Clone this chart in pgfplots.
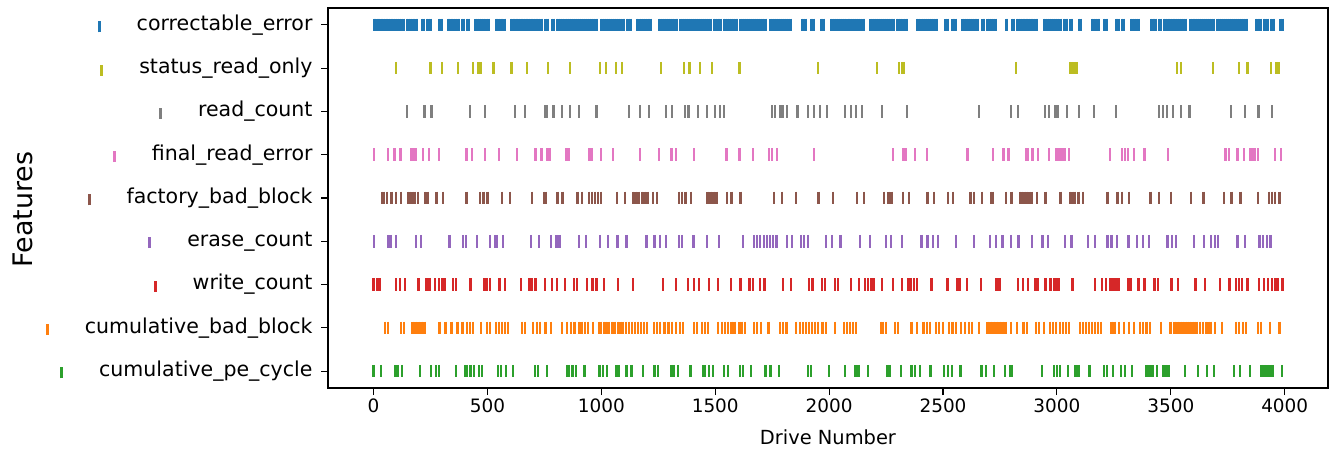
\documentclass[border=0pt]{standalone}
\usepackage{fontspec}
\setmainfont{DejaVu Sans}
\usepackage{pgfplots}
\pgfplotsset{compat=1.18}
\definecolor{tabblue}{HTML}{1F77B4}
\definecolor{tabolive}{HTML}{BCBD22}
\definecolor{tabgray}{HTML}{7F7F7F}
\definecolor{tabpink}{HTML}{E377C2}
\definecolor{tabbrown}{HTML}{8C564B}
\definecolor{tabpurple}{HTML}{9467BD}
\definecolor{tabred}{HTML}{D62728}
\definecolor{taborange}{HTML}{FF7F0E}
\definecolor{tabgreen}{HTML}{2CA02C}
\newcommand{\mk}[1]{\textcolor{#1}{\rule[-2bp]{3bp}{11bp}}\hspace{36bp}}
\pgfplotsset{ev/.style={only marks, mark=|, mark size=6.3bp, mark options={line width=2.3bp, solid}, draw=#1, color=#1}}
\begin{document}
\begin{tikzpicture}
\useasboundingbox (0,0) rectangle (1329bp,450bp);
\begin{axis}[
  at={(328bp,62bp)}, anchor=south west,
  scale only axis, width=1000bp, height=380bp,
  xmin=-200, xmax=4190, ymin=-0.39, ymax=8.39,
  xtick={0,500,...,4000},
  ytick={0,1,2,3,4,5,6,7,8},
  yticklabels={\mk{tabgreen}cumulative\_pe\_cycle,\mk{taborange}cumulative\_bad\_block,\mk{tabred}write\_count,\mk{tabpurple}erase\_count,\mk{tabbrown}factory\_bad\_block,\mk{tabpink}final\_read\_error,\mk{tabgray}read\_count,\mk{tabolive}status\_read\_only,\mk{tabblue}correctable\_error},
  tick align=outside, major tick length=7bp,
  tick style={black, line width=1.1bp},
  axis line style={black, line width=1.1bp},
  xtick pos=bottom, ytick pos=left,
  xticklabel style={font=\fontsize{18.5}{22}\selectfont},
  yticklabel style={font=\fontsize{20.6}{24}\selectfont, xshift=-5bp},
  /pgf/number format/assume math mode=true,
  /pgf/number format/1000 sep={},
  xlabel={Drive Number}, ylabel={Features},
  xlabel style={font=\fontsize{19.5}{23}\selectfont, at={(axis description cs:0.5,-0.129)}, anchor=center},
  ylabel style={font=\fontsize{27}{31}\selectfont, at={(axis description cs:-0.305,0.47)}, anchor=center},
]
% correctable_error (8)
\addplot[ev=tabblue] coordinates {
(1,8)(7,8)(13,8)(19,8)(25,8)(31,8)(38,8)(46,8)(53,8)(60,8)(67,8)(75,8)(82,8)
(89,8)(98,8)(107,8)(116,8)(125,8)(133,8)(148,8)(156,8)(164,8)(172,8)(177,8)
(184,8)(192,8)(214,8)(221,8)(236,8)(243,8)(250,8)(287,8)(295,8)(302,8)
(326,8)(332,8)(338,8)(345,8)(353,8)(361,8)(368,8)(375,8)(389,8)(397,8)(411,8)(419,8)
(448,8)(457,8)(466,8)(475,8)(484,8)(496,8)(506,8)(536,8)(543,8)(550,8)(558,8)(565,8)(575,8)
(602,8)(610,8)(618,8)(625,8)(631,8)(638,8)(645,8)(653,8)(660,8)(667,8)(675,8)(682,8)(689,8)
(697,8)(704,8)(711,8)(719,8)(726,8)(734,8)(741,8)(755,8)(763,8)(784,8)(792,8)
(806,8)(815,8)(824,8)(833,8)(842,8)(851,8)(860,8)(869,8)(880,8)
(887,8)(896,8)(905,8)(914,8)(923,8)(932,8)(941,8)(950,8)(959,8)(968,8)(975,8)(982,8)
(997,8)(1006,8)(1015,8)(1024,8)(1033,8)(1042,8)(1051,8)(1060,8)(1069,8)(1078,8)(1087,8)(1094,8)(1099,8)
(1114,8)(1121,8)(1128,8)(1158,8)(1167,8)(1176,8)(1185,8)(1194,8)(1203,8)(1210,8)(1216,8)
(1253,8)(1262,8)(1271,8)(1280,8)(1289,8)(1298,8)(1307,8)(1316,8)(1325,8)(1333,8)
(1348,8)(1357,8)(1366,8)(1375,8)(1384,8)(1393,8)(1402,8)(1411,8)(1421,8)
(1428,8)(1437,8)(1446,8)(1455,8)(1464,8)(1473,8)(1482,8)(1494,8)(1502,8)(1510,8)(1517,8)(1524,8)
(1538,8)(1547,8)(1556,8)(1565,8)(1574,8)(1583,8)(1590,8)(1597,8)
(1611,8)(1620,8)(1629,8)(1638,8)(1647,8)(1656,8)(1665,8)(1674,8)(1683,8)(1692,8)(1701,8)(1710,8)(1721,8)
(1743,8)(1752,8)(1761,8)(1770,8)(1779,8)(1788,8)(1797,8)(1806,8)(1815,8)(1824,8)(1831,8)
(1882,8)(1890,8)(1897,8)(1919,8)(1926,8)(1933,8)(1963,8)(1970,8)(1977,8)
(2007,8)(2016,8)(2025,8)(2034,8)(2043,8)(2052,8)(2061,8)(2070,8)(2080,8)(2087,8)(2094,8)
(2102,8)(2111,8)(2120,8)(2129,8)(2138,8)(2146,8)(2153,8)
(2182,8)(2191,8)(2200,8)(2209,8)(2218,8)(2227,8)(2236,8)(2245,8)(2255,8)(2263,8)(2270,8)(2277,8)(2285,8)
(2299,8)(2308,8)(2317,8)(2326,8)(2335,8)(2343,8)
(2387,8)(2396,8)(2405,8)(2414,8)(2423,8)(2432,8)(2441,8)(2450,8)(2459,8)(2468,8)(2475,8)
(2511,8)(2519,8)(2541,8)(2548,8)(2555,8)(2585,8)(2594,8)(2603,8)(2612,8)(2621,8)(2630,8)(2639,8)(2645,8)(2651,8)
(2673,8)(2680,8)(2695,8)(2704,8)(2713,8)(2722,8)(2731,8)(2775,8)(2782,8)(2804,8)(2812,8)
(2826,8)(2834,8)(2842,8)(2849,8)(2855,8)(2863,8)(2870,8)(2878,8)(2885,8)(2892,8)(2900,8)(2907,8)(2914,8)
(2943,8)(2952,8)(2961,8)(2970,8)(2979,8)(2988,8)(2997,8)(3006,8)(3016,8)(3031,8)(3038,8)(3045,8)
(3060,8)(3067,8)(3097,8)(3104,8)(3155,8)(3163,8)(3171,8)(3178,8)(3185,8)(3207,8)(3214,8)(3221,8)
(3258,8)(3265,8)(3273,8)(3287,8)(3295,8)(3324,8)(3333,8)(3342,8)(3351,8)(3360,8)
(3412,8)(3419,8)(3426,8)(3434,8)(3448,8)(3456,8)(3470,8)(3478,8)(3485,8)(3492,8)(3500,8)(3507,8)(3514,8)
(3522,8)(3531,8)(3540,8)(3549,8)(3557,8)(3565,8)(3587,8)(3595,8)(3602,8)(3609,8)
(3617,8)(3626,8)(3635,8)(3644,8)(3653,8)(3662,8)(3671,8)(3680,8)(3690,8)
(3705,8)(3714,8)(3723,8)(3732,8)(3741,8)(3750,8)(3759,8)(3768,8)(3777,8)(3786,8)(3795,8)(3804,8)(3813,8)(3822,8)(3830,8)(3836,8)
(3873,8)(3880,8)(3888,8)(3895,8)(3909,8)(3917,8)(3924,8)(3939,8)(3946,8)(3953,8)(3982,8)(3990,8)
};
% status_read_only (7)
\addplot[ev=tabolive] coordinates {
(100,7)(250,7)(300,7)(371,7)(437,7)(461,7)(471,7)(526,7)(605,7)(674,7)(766,7)(863,7)
(995,7)(1019,7)(1063,7)(1090,7)(1261,7)(1363,7)(1387,7)(1434,7)(1487,7)(1606,7)(1950,7)
(2211,7)(2306,7)(2319,7)(2329,7)(2821,7)(3056,7)(3066,7)(3077,7)(3087,7)(3527,7)(3545,7)
(3685,7)(3798,7)(3837,7)(3940,7)(3964,7)(3974,7)
};
% read_count (6)
\addplot[ev=tabgray] coordinates {
(147,6)(224,6)(255,6)(424,6)(490,6)(621,6)(666,6)(753,6)(760,6)(790,6)(826,6)(863,6)(903,6)
(979,6)(1121,6)(1169,6)(1208,6)(1284,6)(1311,6)(1366,6)(1382,6)(1424,6)(1463,6)(1498,6)(1521,6)(1537,6)
(1748,6)(1763,6)(1785,6)(1795,6)(1816,6)(1861,6)(1906,6)(1934,6)(1961,6)(1992,6)(2069,6)(2095,6)
(2119,6)(2145,6)(2232,6)(2342,6)(2658,6)(2798,6)(2829,6)(2948,6)(2966,6)(2993,6)(3003,6)(3043,6)
(3098,6)(3164,6)(3258,6)(3448,6)(3466,6)(3482,6)(3511,6)(3545,6)(3582,6)(3764,6)(3827,6)(3885,6)(3943,6)
};
% final_read_error (5)
\addplot[ev=tabpink] coordinates {
(3,5)(63,5)(92,5)(118,5)(163,5)(174,5)(184,5)(218,5)(242,5)(287,5)(408,5)(432,5)(490,5)(550,5)
(629,5)(711,5)(737,5)(763,5)(774,5)(847,5)(858,5)(948,5)(958,5)(998,5)(1050,5)(1171,5)(1253,5)
(1308,5)(1327,5)(1408,5)(1550,5)(1606,5)(1666,5)(1737,5)(1750,5)(1771,5)(1935,5)(2279,5)(2324,5)
(2335,5)(2377,5)(2429,5)(2608,5)(2719,5)(2766,5)(2787,5)(2864,5)(2874,5)(2893,5)(2916,5)(2966,5)
(2995,5)(3006,5)(3016,5)(3027,5)(3037,5)(3053,5)(3232,5)(3287,5)(3298,5)(3311,5)(3337,5)(3385,5)
(3487,5)(3740,5)(3756,5)(3793,5)(3822,5)(3848,5)(3858,5)(3869,5)(3882,5)(3956,5)(3985,5)
};
% factory_bad_block (4)
\addplot[ev=tabbrown] coordinates {
(37,4)(47,4)(58,4)(79,4)(100,4)(121,4)(150,4)(161,4)(171,4)(182,4)(195,4)(226,4)(237,4)(276,4)
(305,4)(408,4)(468,4)(482,4)(500,4)(563,4)(600,4)(697,4)(747,4)(758,4)(808,4)(829,4)(895,4)(916,4)
(945,4)(958,4)(971,4)(984,4)(998,4)(1069,4)(1105,4)(1140,4)(1150,4)(1163,4)(1177,4)(1190,4)(1203,4)
(1226,4)(1245,4)(1342,4)(1355,4)(1369,4)(1395,4)(1466,4)(1479,4)(1492,4)(1506,4)(1553,4)(1571,4)
(1611,4)(1758,4)(1792,4)(1856,4)(1953,4)(2016,4)(2121,4)(2153,4)(2240,4)(2261,4)(2274,4)(2324,4)
(2350,4)(2432,4)(2461,4)(2521,4)(2545,4)(2621,4)(2637,4)(2671,4)(2711,4)(2719,4)(2777,4)(2800,4)
(2837,4)(2848,4)(2858,4)(2869,4)(2879,4)(2890,4)(2914,4)(2950,4)(3016,4)(3058,4)(3069,4)(3079,4)
(3095,4)(3114,4)(3222,4)(3266,4)(3285,4)(3316,4)(3411,4)(3448,4)(3501,4)(3590,4)(3643,4)(3732,4)
(3766,4)(3806,4)(3882,4)(3932,4)(3943,4)(3956,4)(3977,4)
};
% erase_count (3)
\addplot[ev=tabpurple] coordinates {
(3,3)(63,3)(74,3)(100,3)(187,3)(208,3)(334,3)(392,3)(405,3)(455,3)(511,3)(532,3)(542,3)(569,3)
(690,3)(726,3)(779,3)(803,3)(816,3)(903,3)(934,3)(995,3)(1029,3)(1071,3)(1111,3)(1198,3)(1234,3)
(1258,3)(1284,3)(1340,3)(1355,3)(1405,3)(1463,3)(1516,3)(1621,3)(1671,3)(1682,3)(1695,3)(1713,3)
(1727,3)(1740,3)(1753,3)(1769,3)(1816,3)(1837,3)(1877,3)(1890,3)(1906,3)(1985,3)(2013,3)(2050,3)
(2137,3)(2179,3)(2250,3)(2271,3)(2321,3)(2406,3)(2432,3)(2456,3)(2477,3)(2558,3)(2637,3)(2706,3)
(2732,3)(2761,3)(2798,3)(2832,3)(2890,3)(2937,3)(2961,3)(3037,3)(3064,3)(3135,3)(3166,3)(3222,3)
(3240,3)(3264,3)(3314,3)(3351,3)(3377,3)(3403,3)(3485,3)(3506,3)(3522,3)(3601,3)(3645,3)(3677,3)
(3693,3)(3706,3)(3793,3)(3827,3)(3890,3)(3906,3)(3922,3)(3937,3)
};
% write_count (2)
\addplot[ev=tabred] coordinates {
(0,2)(16,2)(26,2)(100,2)(116,2)(139,2)(197,2)(232,2)(245,2)(271,2)(287,2)(300,2)(311,2)(350,2)
(363,2)(426,2)(487,2)(497,2)(511,2)(553,2)(576,2)(647,2)(684,2)(697,2)(711,2)(753,2)(782,2)(805,2)
(840,2)(879,2)(892,2)(937,2)(961,2)(979,2)(1013,2)(1074,2)(1140,2)(1271,2)(1329,2)(1379,2)(1406,2)
(1429,2)(1474,2)(1511,2)(1569,2)(1611,2)(1650,2)(1666,2)(1695,2)(1716,2)(1798,2)(1832,2)(1911,2)
(1927,2)(1969,2)(1982,2)(2027,2)(2040,2)(2095,2)(2132,2)(2158,2)(2171,2)(2185,2)(2195,2)(2232,2)
(2279,2)(2321,2)(2348,2)(2358,2)(2374,2)(2387,2)(2450,2)(2519,2)(2564,2)(2574,2)(2606,2)(2666,2)
(2735,2)(2748,2)(2829,2)(2850,2)(2872,2)(2906,2)(2916,2)(2950,2)(2972,2)(2987,2)(2998,2)(3008,2)
(3069,2)(3166,2)(3198,2)(3214,2)(3232,2)(3243,2)(3253,2)(3264,2)(3274,2)(3314,2)(3324,2)(3358,2)
(3385,2)(3429,2)(3445,2)(3503,2)(3532,2)(3608,2)(3651,2)(3716,2)(3758,2)(3787,2)(3800,2)(3814,2)
(3837,2)(3887,2)(3908,2)(3927,2)(3943,2)(3956,2)(3969,2)(3990,2)
};
% cumulative_bad_block (1)
\addplot[ev=taborange] coordinates {
(50,1)(63,1)(121,1)(134,1)(171,1)(184,1)(197,1)(211,1)(224,1)(290,1)(316,1)(342,1)(368,1)(390,1)
(411,1)(424,1)(437,1)(471,1)(497,1)(511,1)(537,1)(550,1)(563,1)(576,1)(590,1)(653,1)(666,1)(700,1)
(716,1)(732,1)(755,1)(779,1)(826,1)(850,1)(866,1)(882,1)(903,1)(913,1)(929,1)(942,1)(963,1)(990,1)
(1000,1)(1011,1)(1021,1)(1032,1)(1048,1)(1058,1)(1074,1)(1084,1)(1095,1)(1108,1)(1121,1)(1134,1)
(1148,1)(1161,1)(1174,1)(1187,1)(1200,1)(1232,1)(1245,1)(1258,1)(1277,1)(1295,1)(1311,1)(1329,1)
(1345,1)(1358,1)(1408,1)(1421,1)(1442,1)(1455,1)(1469,1)(1513,1)(1529,1)(1542,1)(1556,1)(1571,1)
(1584,1)(1606,1)(1619,1)(1632,1)(1669,1)(1684,1)(1700,1)(1734,1)(1785,1)(1798,1)(1813,1)(1856,1)
(1871,1)(1885,1)(1898,1)(1911,1)(1924,1)(1937,1)(1950,1)(1971,1)(1987,1)(2027,1)(2066,1)(2079,1)
(2092,1)(2106,1)(2119,1)(2227,1)(2237,1)(2250,1)(2290,1)(2303,1)(2361,1)(2387,1)(2414,1)(2429,1)
(2442,1)(2469,1)(2482,1)(2500,1)(2527,1)(2542,1)(2558,1)(2579,1)(2595,1)(2614,1)(2627,1)(2658,1)
(2695,1)(2708,1)(2721,1)(2735,1)(2748,1)(2761,1)(2774,1)(2798,1)(2824,1)(2853,1)(2869,1)(2908,1)
(2921,1)(2943,1)(2969,1)(2982,1)(2995,1)(3014,1)(3027,1)(3040,1)(3053,1)(3100,1)(3114,1)(3127,1)
(3140,1)(3153,1)(3166,1)(3180,1)(3193,1)(3240,1)(3253,1)(3272,1)(3293,1)(3316,1)(3337,1)(3364,1)
(3377,1)(3393,1)(3409,1)(3456,1)(3498,1)(3516,1)(3530,1)(3543,1)(3553,1)(3564,1)(3574,1)(3585,1)
(3595,1)(3606,1)(3616,1)(3627,1)(3640,1)(3653,1)(3666,1)(3677,1)(3693,1)(3724,1)(3785,1)(3800,1)
(3816,1)(3830,1)(3882,1)(3895,1)(3935,1)(3977,1)
};
% cumulative_pe_cycle (0)
\addplot[ev=tabgreen] coordinates {
(0,0)(34,0)(95,0)(105,0)(126,0)(205,0)(253,0)(274,0)(287,0)(363,0)(400,0)(411,0)(426,0)(442,0)
(463,0)(476,0)(547,0)(561,0)(582,0)(613,0)(708,0)(721,0)(761,0)(848,0)(858,0)(874,0)(890,0)(926,0)
(992,0)(1008,0)(1026,0)(1066,0)(1079,0)(1111,0)(1132,0)(1182,0)(1234,0)(1248,0)(1308,0)(1319,0)
(1337,0)(1392,0)(1445,0)(1455,0)(1474,0)(1490,0)(1537,0)(1556,0)(1608,0)(1621,0)(1658,0)(1721,0)
(1742,0)(1779,0)(1906,0)(1921,0)(1998,0)(2069,0)(2116,0)(2129,0)(2171,0)(2256,0)(2266,0)(2316,0)
(2361,0)(2377,0)(2400,0)(2445,0)(2503,0)(2521,0)(2540,0)(2577,0)(2669,0)(2690,0)(2724,0)(2772,0)
(2793,0)(2803,0)(2935,0)(2987,0)(3001,0)(3014,0)(3048,0)(3082,0)(3095,0)(3143,0)(3206,0)(3219,0)
(3245,0)(3282,0)(3298,0)(3330,0)(3393,0)(3406,0)(3419,0)(3440,0)(3467,0)(3477,0)(3490,0)(3561,0)
(3619,0)(3658,0)(3690,0)(3777,0)(3803,0)(3848,0)(3898,0)(3911,0)(3924,0)(3937,0)(3948,0)(3987,0)
};
\end{axis}
\end{tikzpicture}
\end{document}
